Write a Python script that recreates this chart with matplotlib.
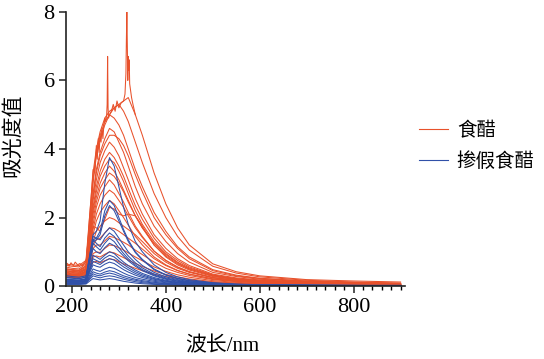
import numpy as np
import matplotlib.pyplot as plt

# wavelength grid (nm) the spectra were read at
wl = [190, 200, 215, 230, 238, 245, 252, 260, 270, 280, 290, 300, 310, 320,
      335, 350, 375, 400, 425, 450, 500, 550, 600, 700, 800, 900]

# 食醋 spectra
vinegar = [
    [0.64,0.62,0.60,0.75,2.1,3.3,4.0,4.5,4.9,5.1,5.2,5.3,5.4,5.5,5.0,4.4,3.3,2.4,1.7,1.2,0.65,0.42,0.30,0.19,0.15,0.12],
    [0.60,0.58,0.56,0.70,1.9,3.1,3.9,4.4,4.8,5.0,5.2,5.3,5.1,4.8,4.2,3.6,2.7,2.0,1.45,1.05,0.58,0.38,0.27,0.17,0.12,0.09],
    [0.55,0.52,0.50,0.65,1.8,3.0,3.8,4.3,4.7,5.0,4.9,4.7,4.4,4.0,3.4,2.9,2.15,1.6,1.15,0.85,0.48,0.32,0.23,0.15,0.11,0.08],
    [0.50,0.48,0.46,0.60,1.6,2.7,3.4,3.9,4.3,4.6,4.5,4.2,3.9,3.5,2.9,2.4,1.75,1.3,0.95,0.70,0.40,0.28,0.20,0.13,0.10,0.07],
    [0.50,0.48,0.46,0.58,1.55,2.6,3.3,3.8,4.15,4.4,4.4,4.3,4.1,3.8,3.25,2.75,2.0,1.5,1.1,0.80,0.45,0.30,0.22,0.14,0.10,0.07],
    [0.48,0.46,0.44,0.55,1.5,2.5,3.1,3.6,3.95,4.2,4.05,3.8,3.45,3.1,2.55,2.1,1.5,1.1,0.80,0.60,0.35,0.24,0.18,0.12,0.09,0.06],
    [0.45,0.43,0.42,0.52,1.4,2.3,2.9,3.35,3.7,3.9,3.75,3.5,3.2,2.85,2.35,1.95,1.4,1.0,0.75,0.56,0.33,0.22,0.16,0.11,0.08,0.06],
    [0.44,0.42,0.40,0.50,1.35,2.2,2.75,3.2,3.5,3.7,3.6,3.35,3.05,2.7,2.2,1.8,1.3,0.95,0.70,0.53,0.32,0.21,0.16,0.10,0.07,0.05],
    [0.42,0.40,0.38,0.50,1.3,2.1,2.6,3.0,3.3,3.5,3.35,3.1,2.8,2.5,2.05,1.7,1.2,0.88,0.65,0.50,0.30,0.20,0.15,0.10,0.07,0.05],
    [0.40,0.38,0.37,0.48,1.2,1.95,2.45,2.85,3.1,3.3,3.2,3.0,2.75,2.45,2.05,1.7,1.25,0.92,0.68,0.50,0.30,0.20,0.15,0.10,0.07,0.05],
    [0.38,0.36,0.35,0.45,1.1,1.8,2.3,2.65,2.9,3.1,2.95,2.7,2.45,2.15,1.75,1.45,1.02,0.75,0.55,0.42,0.25,0.17,0.13,0.09,0.06,0.05],
    [0.36,0.35,0.34,0.44,1.0,1.65,2.1,2.4,2.65,2.8,2.7,2.5,2.3,2.05,1.7,1.42,1.02,0.75,0.56,0.42,0.25,0.17,0.13,0.09,0.06,0.05],
    [0.35,0.34,0.33,0.42,0.95,1.5,1.9,2.15,2.35,2.5,2.4,2.2,2.0,1.78,1.45,1.2,0.85,0.62,0.46,0.35,0.21,0.15,0.11,0.08,0.06,0.04],
    [0.34,0.33,0.32,0.42,1.2,1.75,1.7,1.6,1.95,2.3,2.25,2.1,2.05,2.1,2.05,1.75,1.2,0.85,0.62,0.47,0.28,0.19,0.14,0.09,0.07,0.05],
    [0.33,0.32,0.31,0.40,0.85,1.3,1.6,1.75,1.9,2.0,1.95,1.85,1.75,1.65,1.5,1.3,0.95,0.70,0.52,0.40,0.24,0.16,0.12,0.08,0.06,0.04],
    [0.32,0.31,0.30,0.38,0.8,1.2,1.35,1.4,1.55,1.7,1.68,1.6,1.5,1.4,1.25,1.08,0.80,0.60,0.45,0.35,0.21,0.14,0.10,0.07,0.05,0.04],
    [0.30,0.29,0.28,0.36,0.75,1.1,1.2,1.2,1.32,1.45,1.42,1.35,1.28,1.2,1.05,0.92,0.70,0.52,0.40,0.31,0.19,0.13,0.10,0.07,0.05,0.04],
    [0.28,0.27,0.27,0.34,0.65,0.95,1.0,0.98,1.1,1.2,1.18,1.12,1.05,0.97,0.85,0.74,0.56,0.43,0.33,0.26,0.16,0.11,0.08,0.06,0.04,0.03],
    [0.27,0.26,0.26,0.32,0.6,0.85,0.88,0.85,0.93,1.0,0.97,0.90,0.83,0.76,0.66,0.57,0.44,0.34,0.27,0.21,0.13,0.09,0.07,0.05,0.04,0.03],
    [0.25,0.25,0.25,0.30,0.5,0.70,0.72,0.68,0.74,0.80,0.77,0.71,0.65,0.60,0.52,0.45,0.35,0.28,0.22,0.17,0.11,0.08,0.06,0.04,0.03,0.03],
]

# noisy bits of the top 食醋 spectra
noise_wl = [190, 194, 198, 203, 207, 212, 217, 222, 227, 231, 234, 237, 241, 245, 249, 252, 254, 256, 258,
            260, 262, 264, 266, 268, 270, 272, 274, 275, 276, 277, 278, 280, 284, 288, 292, 296, 300, 305,
            310, 313, 315, 316, 317, 318, 319, 320, 321, 322, 323, 325, 327, 330, 335]
noise_val = [0.66, 0.58, 0.68, 0.6, 0.7, 0.62, 0.66, 0.59, 0.67, 0.8, 1.3, 1.9, 2.6, 3.4, 3.3, 4.1, 3.7, 4.3, 3.9,
             4.4, 4.2, 4.6, 4.3, 4.7, 4.9, 4.8, 5.0, 5.3, 6.7, 5.2, 4.9, 5.0, 5.1, 5.3, 5.1, 5.4, 5.2, 5.35,
             5.4, 5.6, 6.2, 7.2, 8.0, 7.0, 6.0, 6.7, 6.3, 6.6, 5.9, 5.7, 5.5, 5.3, 5.0]

# 掺假食醋 spectra
adulterated = [
    [0.30,0.28,0.26,0.30,0.9,1.5,1.6,1.9,3.0,3.75,3.5,2.9,2.3,1.8,1.3,1.0,0.62,0.40,0.27,0.19,0.10,0.06,0.04,0.03,0.02,0.02],
    [0.25,0.24,0.22,0.27,0.8,1.35,1.4,1.6,2.2,2.5,2.35,2.0,1.65,1.35,1.0,0.78,0.50,0.33,0.23,0.16,0.09,0.05,0.04,0.03,0.02,0.02],
    [0.24,0.23,0.21,0.26,0.75,1.3,1.35,1.5,2.05,2.35,2.2,1.9,1.6,1.3,0.98,0.76,0.48,0.32,0.22,0.15,0.08,0.05,0.04,0.03,0.02,0.02],
    [0.20,0.19,0.18,0.22,0.9,1.45,1.4,1.35,1.55,1.7,1.6,1.4,1.2,1.0,0.78,0.60,0.40,0.27,0.19,0.13,0.07,0.05,0.03,0.02,0.02,0.01],
    [0.19,0.18,0.17,0.21,0.85,1.35,1.25,1.15,1.4,1.55,1.45,1.25,1.05,0.88,0.68,0.53,0.35,0.24,0.17,0.12,0.07,0.04,0.03,0.02,0.02,0.01],
    [0.18,0.17,0.16,0.20,0.8,1.25,1.15,1.05,1.25,1.4,1.3,1.12,0.95,0.80,0.62,0.48,0.32,0.22,0.15,0.11,0.06,0.04,0.03,0.02,0.01,0.01],
    [0.17,0.16,0.15,0.19,0.7,1.1,1.0,0.95,1.12,1.25,1.18,1.02,0.88,0.74,0.58,0.45,0.30,0.20,0.14,0.10,0.06,0.04,0.03,0.02,0.01,0.01],
    [0.15,0.14,0.13,0.17,0.55,0.9,0.85,0.78,0.9,1.0,0.95,0.82,0.70,0.60,0.47,0.37,0.25,0.17,0.12,0.09,0.05,0.03,0.02,0.02,0.01,0.01],
    [0.14,0.13,0.12,0.16,0.5,0.8,0.75,0.70,0.82,0.9,0.85,0.74,0.63,0.54,0.42,0.33,0.22,0.15,0.11,0.08,0.05,0.03,0.02,0.01,0.01,0.01],
    [0.13,0.12,0.12,0.15,0.45,0.72,0.68,0.63,0.73,0.8,0.76,0.66,0.56,0.48,0.37,0.29,0.20,0.14,0.10,0.07,0.04,0.03,0.02,0.01,0.01,0.01],
    [0.12,0.11,0.11,0.14,0.4,0.62,0.58,0.55,0.64,0.7,0.66,0.57,0.48,0.41,0.32,0.25,0.17,0.12,0.09,0.06,0.04,0.02,0.02,0.01,0.01,0.01],
    [0.10,0.10,0.09,0.12,0.33,0.5,0.46,0.43,0.5,0.55,0.52,0.45,0.38,0.32,0.25,0.20,0.14,0.10,0.07,0.05,0.03,0.02,0.01,0.01,0.01,0.01],
    [0.09,0.09,0.08,0.10,0.28,0.42,0.38,0.35,0.41,0.45,0.42,0.36,0.30,0.26,0.20,0.16,0.11,0.08,0.06,0.04,0.03,0.02,0.01,0.01,0.01,0.01],
    [0.08,0.08,0.07,0.09,0.24,0.36,0.32,0.30,0.35,0.38,0.35,0.30,0.25,0.21,0.17,0.13,0.09,0.07,0.05,0.04,0.02,0.02,0.01,0.01,0.01,0.01],
    [0.06,0.06,0.06,0.08,0.2,0.3,0.27,0.24,0.28,0.3,0.28,0.24,0.20,0.17,0.13,0.10,0.07,0.05,0.04,0.03,0.02,0.01,0.01,0.01,0.01,0.01],
    [0.05,0.05,0.05,0.06,0.15,0.22,0.2,0.18,0.2,0.22,0.2,0.17,0.14,0.12,0.09,0.07,0.05,0.04,0.03,0.02,0.02,0.01,0.01,0.01,0.01,0.01],
]

labels = ['食醋', '掺假食醋']
orange = '#e8512b'
blue = '#3050a8'

plt.rcParams['font.family'] = ['Liberation Serif', 'Noto Sans CJK SC']
fig = plt.figure(figsize=(5.44, 3.59), dpi=100)
ax = fig.add_axes([0.121, 0.203, 0.624, 0.764])

for i, s in enumerate(vinegar):
    ax.plot(wl, s, color=orange, lw=0.75, label=labels[0] if i == 0 else None)
ax.plot(noise_wl, noise_val, color=orange, lw=0.75)
for i, s in enumerate(adulterated):
    ax.plot(wl, s, color=blue, lw=0.75, label=labels[1] if i == 0 else None)

ax.set_xlim(187, 910)
ax.set_ylim(0, 8)
ax.set_xticks([200, 400, 600, 800])
ax.set_xticks(np.arange(200, 901, 20), minor=True)
ax.set_yticks([0, 2, 4, 6, 8])
ax.tick_params(axis='both', labelsize=16, direction='out', width=1.1, length=5, color='#222222')
ax.tick_params(axis='x', which='minor', length=3, width=1.0)
ax.tick_params(axis='y', pad=3)
for sp in ['top', 'right']:
    ax.spines[sp].set_visible(False)
for sp in ['left', 'bottom']:
    ax.spines[sp].set_linewidth(1.2)
    ax.spines[sp].set_color('#222222')

ax.set_xlabel('波长/nm', fontsize=15)
ax.xaxis.set_label_coords(0.46, -0.185)
ax.set_ylabel('吸光度值', fontsize=15)
ax.yaxis.set_label_coords(-0.125, 0.55)

leg = ax.legend(loc='center left', bbox_to_anchor=(1.0, 0.51), frameon=False, fontsize=14,
                handlelength=1.5, handletextpad=0.45, labelspacing=0.6, borderaxespad=0.3)
for h in leg.get_lines():
    h.set_linewidth(0.8)

fig.savefig('out.png', dpi=100)
